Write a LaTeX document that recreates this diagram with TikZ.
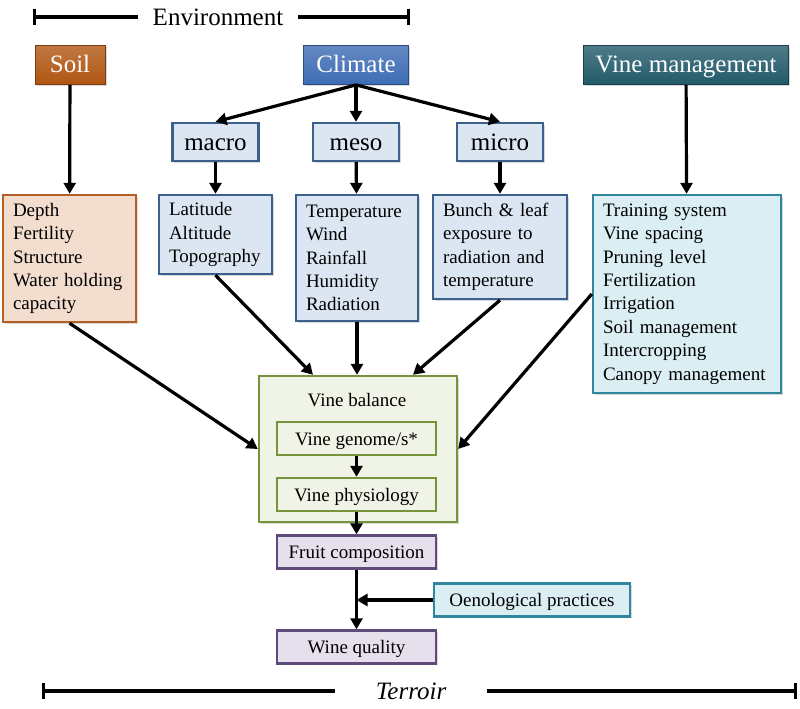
\documentclass[tikz,border=0pt]{standalone}
\usepackage{fontspec}
\setmainfont{Liberation Serif}
\usetikzlibrary{arrows.meta,shadows}
\definecolor{soilbrown}{RGB}{176,86,18}
\definecolor{soilfill}{RGB}{242,221,206}
\definecolor{soilline}{RGB}{178,96,38}
\definecolor{climblue}{RGB}{62,108,180}
\definecolor{climfill}{RGB}{220,230,242}
\definecolor{climline}{RGB}{60,96,140}
\definecolor{mgmtteal}{RGB}{34,90,106}
\definecolor{mgmtfill}{RGB}{218,238,243}
\definecolor{mgmtline}{RGB}{49,133,156}
\definecolor{balfill}{RGB}{240,244,230}
\definecolor{balline}{RGB}{119,147,60}
\definecolor{fruitfill}{RGB}{229,224,236}
\definecolor{fruitline}{RGB}{96,74,123}

\begin{document}
\begin{tikzpicture}[x=1pt,y=-1pt,
      softshadow/.style={drop shadow={shadow xshift=1.5pt,shadow yshift=-1.8pt,opacity=0.3}},
      header/.style={rectangle, draw=#1!70!black, top color=#1!80!white, bottom color=#1, text=white, line width=0.8pt, minimum height=39pt, inner sep=0pt, text height=17pt, text depth=1pt, font=\fontsize{25}{30}\selectfont, softshadow},
      scalebox/.style={rectangle, draw=climline, fill=climfill, line width=2.4pt, minimum width=86pt, minimum height=38pt, inner sep=0pt, text height=17pt, text depth=1pt, font=\fontsize{25}{30}\selectfont, softshadow},
      factors/.style 2 args={rectangle, draw=#1, fill=#2, line width=2.4pt, align=left, inner xsep=10pt, inner ysep=0pt, font=\fontsize{19}{23.4}\selectfont, softshadow},
      stage/.style 2 args={rectangle, draw=#1, fill=#2, line width=2.4pt, minimum width=159pt, minimum height=33pt, inner sep=0pt, text height=13pt, text depth=0pt, font=\fontsize{19}{23}\selectfont},
      flow/.style={-{Triangle[length=11pt,width=12pt]}, line width=3.2pt},
      span/.style={line width=3.2pt}]
   \useasboundingbox (0,0) rectangle (800,709);

   \node[font=\fontsize{25}{30}\selectfont, inner xsep=15pt] (env) at (218,17) {Environment};
   \coordinate (envleft) at (33,17);
   \coordinate (envright) at (410,17);
   \draw[span, {Bar[width=16pt]}-] (envleft) to (env.west);
   \draw[span, -{Bar[width=16pt]}] (env.east) to (envright);

   \node[header=soilbrown, minimum width=70pt] (soil) at (70,65) {Soil};
   \node[header=climblue, minimum width=105pt] (climate) at (356,65) {Climate};
   \node[header=mgmtteal, minimum width=205pt] (mgmt) at (686,65) {Vine management};

   \node[scalebox] (macro) at (215.5,142) {macro};
   \node[scalebox] (meso) at (356,142) {meso};
   \node[scalebox] (micro) at (500,142) {micro};

   \node[factors={soilline}{soilfill}, text width=113pt, minimum height=127pt] (soilprop) at (69.5,258.5)
      {Depth\\Fertility\\Structure\\Water holding\\capacity};
   \node[factors={climline}{climfill}, text width=93pt, minimum height=79pt] (macroprop) at (215.5,234.5)
      {Latitude\\Altitude\\Topography};
   \node[factors={climline}{climfill}, text width=102pt, minimum height=126pt] (mesoprop) at (357,258)
      {Temperature\\Wind\\Rainfall\\Humidity\\Radiation};
   \node[factors={climline}{climfill}, text width=114pt, minimum height=104pt] (microprop) at (500,247)
      {Bunch \& leaf\\exposure to\\radiation and\\temperature};
   \node[factors={mgmtline}{mgmtfill}, text width=168pt, minimum height=198pt] (mgmtprop) at (687,294)
      {Training system\\Vine spacing\\Pruning level\\Fertilization\\Irrigation\\Soil management\\Intercropping\\Canopy management};

   \node[rectangle, draw=balline, fill=balfill, line width=2.4pt, minimum width=198pt, minimum height=146pt, softshadow] (balance) at (358,449) {};
   \node[font=\fontsize{19}{23}\selectfont] (balancetitle) at (357,400) {Vine balance};
   \node[stage={balline}{balfill}] (genome) at (356.5,438.5) {Vine genome/s*};
   \node[stage={balline}{balfill}] (physio) at (356.5,494.5) {Vine physiology};
   \node[stage={fruitline}{fruitfill}, softshadow] (fruit) at (356.5,552) {Fruit composition};
   \node[stage={mgmtline}{mgmtfill}, minimum width=196pt, softshadow] (oeno) at (532,600) {Oenological practices};
   \node[stage={fruitline}{fruitfill}, softshadow] (quality) at (356.5,647) {Wine quality};

   \draw[flow] (soil) to (soilprop);
   \draw[flow] (mgmt) to (mgmtprop);
   \draw[flow] (climate.south) to (macro.north);
   \draw[flow] (climate.south) to (meso.north);
   \draw[flow] (climate.south) to (micro.north);
   \draw[flow] (macro) to (macroprop);
   \draw[flow] (meso) to (mesoprop);
   \draw[flow] (micro) to (microprop);
   \draw[flow] (soilprop.south) to (balance.west);
   \draw[flow] (macroprop.south) to ([xshift=-45pt]balance.north);
   \draw[flow] (mesoprop.south) to (mesoprop.south |- balance.north);
   \draw[flow] (microprop.south) to ([xshift=55pt]balance.north);
   \draw[flow] (mgmtprop.west) to (balance.east);
   \draw[flow] (genome) to (physio);
   \draw[flow] (physio) to (fruit);
   \draw[flow] (fruit) to (quality);
   \draw[flow] (oeno.west) to (oeno.west -| fruit.south);

   \node[font=\fontsize{25}{30}\selectfont\itshape, inner xsep=41pt] (terroir) at (411,691) {Terroir};
   \coordinate (terroirleft) at (42,691);
   \coordinate (terroirright) at (797,691);
   \draw[span, {Bar[width=16pt]}-] (terroirleft) to (terroir.west);
   \draw[span, -{Bar[width=16pt]}] (terroir.east) to (terroirright);
 \end{tikzpicture}
\end{document}
